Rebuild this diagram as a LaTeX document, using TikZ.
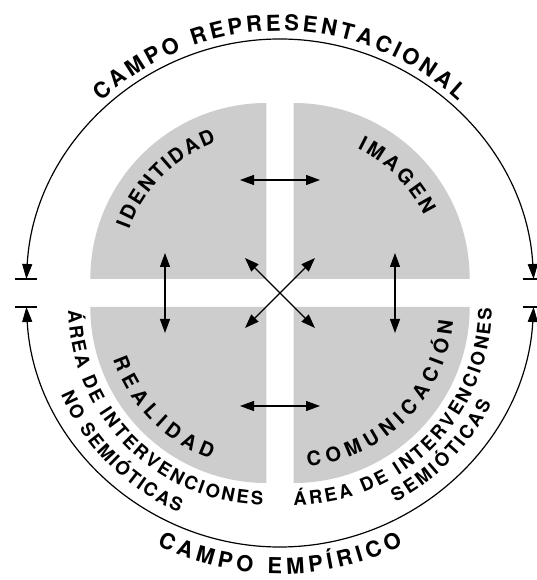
\documentclass[tikz,border=0pt]{standalone}
\usepackage{fontspec}
\setmainfont{TeX Gyre Heros}
\usetikzlibrary{arrows.meta}
\definecolor{quadgray}{RGB}{205,205,205}
\newcommand\fTitle{\fontsize{22pt}{26pt}\selectfont\bfseries}
\newcommand\fQuad{\fontsize{20pt}{24pt}\selectfont\bfseries}
\newcommand\fArea{\fontsize{18.5pt}{22pt}\selectfont\bfseries}
\newlength\arcCharW
\newcommand\measurechar[2]{%
  \pgfinterruptpicture
    \settowidth{\arcCharW}{#1#2}\global\arcCharW=\arcCharW
  \endpgfinterruptpicture}
% #1 centre, #2 radius, #3 start angle, #4 end angle, #5 font, #6 comma list of characters (~ = space)
\newcommand\arctext[6]{%
  \xdef\atotal{0}\xdef\acount{0}%
  \foreach \ch in {#6}{%
    \measurechar{#5}{\ch}%
    \pgfmathsetmacro\atmp{\atotal+\arcCharW}\xdef\atotal{\atmp}%
    \pgfmathsetmacro\atmp{\acount+1}\xdef\acount{\atmp}%
  }%
  \pgfmathsetmacro\alen{abs(#4-#3)/180*pi*#2}%
  \pgfmathsetmacro\agap{(\alen-\atotal)/(\acount-1)}%
  \pgfmathsetmacro\adir{(#4>#3)?1:-1}%
  \xdef\apos{0}%
  \foreach \ch in {#6}{%
    \measurechar{#5}{\ch}%
    \pgfmathsetmacro\amid{\apos+\arcCharW/2}%
    \pgfmathsetmacro\aang{#3+\adir*(\amid/#2)*(180/pi)}%
    \pgfmathsetmacro\arot{\aang+\adir*90}%
    \node[textglyph, font=#5, rotate=\arot] at ([shift={(#1)}]\aang:#2) {\ch};
    \pgfmathsetmacro\atmp{\apos+\arcCharW+\agap}\xdef\apos{\atmp}%
  }%
}
\begin{document}
\begin{tikzpicture}[x=1pt,y=1pt,
  quad/.style={fill=quadgray},
  dbl/.style={line width=1.2pt, arrows={Triangle[length=14pt,width=10pt]-Triangle[length=14pt,width=10pt]}},
  outer/.style={line width=1.2pt, arrows={Triangle[length=15pt,width=10pt]-Triangle[length=15pt,width=10pt]}},
  tickline/.style={line width=1.2pt},
  textglyph/.style={anchor=base, inner sep=0pt, outer sep=0pt}]
\useasboundingbox (-280,-287) rectangle (257,293);
% quadrant corners
\coordinate (TL) at (-13.7,14);
\coordinate (TR) at (13.7,14);
\coordinate (BL) at (-13.7,-14);
\coordinate (BR) at (13.7,-14);
\coordinate (O) at (0,0);
% gray quarter disks
\fill[quad] (TL) -- ++(-176,0) arc[start angle=180, end angle=90, radius=176] -- cycle;
\fill[quad] (TR) -- ++(0,176) arc[start angle=90, end angle=0, radius=176] -- cycle;
\fill[quad] (BL) -- ++(-176,0) arc[start angle=180, end angle=270, radius=176] -- cycle;
\fill[quad] (BR) -- ++(176,0) arc[start angle=0, end angle=-90, radius=176] -- cycle;
% outer arcs
\coordinate (LT) at (176.84:254);
\coordinate (RT) at (3.16:254);
\coordinate (LB) at (183.16:254);
\coordinate (RB) at (356.84:254);
\draw[outer] (LT) arc[start angle=176.84, end angle=3.16, radius=254];
\draw[outer] (LB) arc[start angle=183.16, end angle=356.84, radius=254];
\draw[tickline] (LT) ++(-11,0) -- ++(22,0);
\draw[tickline] (RT) ++(-11,0) -- ++(22,0);
\draw[tickline] (LB) ++(-11,0) -- ++(22,0);
\draw[tickline] (RB) ++(-11,0) -- ++(22,0);
% inner arrows
\coordinate (hta) at (-40,113);  \coordinate (htb) at (40,113);
\coordinate (hba) at (-40,-113); \coordinate (hbb) at (40,-113);
\coordinate (vla) at (-115,40);  \coordinate (vlb) at (-115,-40);
\coordinate (vra) at (115,40);   \coordinate (vrb) at (115,-40);
\coordinate (d1a) at (-35,35);   \coordinate (d1b) at (35,-35);
\coordinate (d2a) at (35,35);    \coordinate (d2b) at (-35,-35);
\draw[dbl] (hta) -- (htb);
\draw[dbl] (hba) -- (hbb);
\draw[dbl] (vla) -- (vlb);
\draw[dbl] (vra) -- (vrb);
\draw[dbl] (d1a) -- (d1b);
\draw[dbl] (d2a) -- (d2b);
% texts along arcs
\arctext{O}{262}{133}{47}{\fTitle}{C,A,M,P,O,~,R,E,P,R,E,S,E,N,T,A,C,I,O,N,A,L}
\arctext{O}{281}{244}{296}{\fTitle}{C,A,M,P,O,~,E,M,P,Í,R,I,C,O}
\arctext{TL}{146}{160}{110}{\fQuad}{I,D,E,N,T,I,D,A,D}
\arctext{TR}{145}{64}{26}{\fQuad}{I,M,A,G,E,N}
\arctext{BL}{162}{199}{250}{\fQuad}{R,E,A,L,I,D,A,D}
\arctext{BR}{160}{275}{355}{\fQuad}{C,O,M,U,N,I,C,A,C,I,Ó,N}
\arctext{BL}{198}{181}{269}{\fArea}{Á,R,E,A,~,D,E,~,I,N,T,E,R,V,E,N,C,I,O,N,E,S}
\arctext{BL}{223}{203}{247}{\fArea}{N,O,~,S,E,M,I,Ó,T,I,C,A,S}
\arctext{BR}{198}{270}{359.8}{\fArea}{Á,R,E,A,~,D,E,~,I,N,T,E,R,V,E,N,C,I,O,N,E,S}
\arctext{BR}{220}{297.6}{334}{\fArea}{S,E,M,I,Ó,T,I,C,A,S}
\end{tikzpicture}
\end{document}
